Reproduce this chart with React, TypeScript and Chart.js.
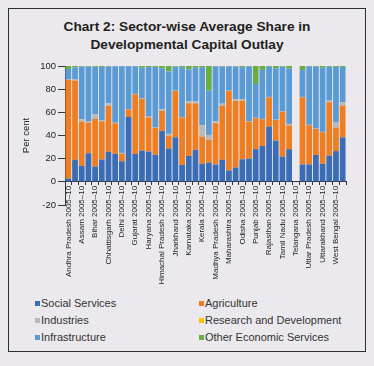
import React, { useEffect, useRef } from "react";
import { Chart, registerables } from "chart.js";

Chart.register(...registerables);

const states = [
  "Andhra Pradesh", "Assam", "Bihar", "Chhattisgarh", "Delhi", "Gujarat", "Haryana",
  "Himachal Pradesh", "Jharkhand", "Karnataka", "Kerala", "Madhya Pradesh", "Maharashtra",
  "Odisha", "Punjab", "Rajasthan", "Tamil Nadu", "Telangana", "Uttar Pradesh", "Uttarakhand",
  "West Bengal",
];
const periods = ["2005–10", "2015–20"];

const socialServices = [2.8, 19, 13.8, 24.7, 13.2, 19.3, 25.9, 24.1, 17.8, 56, 24.1, 27, 26.1, 23.3, 44, 28.7, 38.5, 14.7, 22.4, 27.6, 15.5, 16.7, 14.9, 19, 9.8, 12.4, 19.5, 20.1, 28.2, 31, 47.7, 35.6, 21.8, 28.2, null, 15, 15, 23.3, 15.6, 22.6, 26.5, 38.4];
const agriculture = [85.2, 68.4, 38.2, 26.4, 41.1, 33, 39.6, 26.5, 6.6, 6.6, 51.5, 44.6, 29.6, 23.3, 17.2, 11.3, 39.9, 41, 45.4, 40.2, 23.5, 19.5, 35.7, 46.8, 68.6, 57.4, 50.5, 31.9, 26.7, 23, 25.3, 17.8, 38.8, 20.4, null, 58, 33.9, 22.4, 27.2, 46.1, 20.3, 27.4];
const industries = [0.3, 1.4, 2, 0.9, 4, 0.9, 2.3, 0.4, 0.6, 0.3, 0.3, 0.3, 0.6, 0.3, 1.4, 1.4, 0.3, 0.3, 1.7, 1.5, 9.9, 4.3, 1.7, 1.7, 0.3, 1.5, 1.5, 0.3, 0.3, 0.3, 0.3, 0.3, 0.3, 1.4, null, 0.3, 0.3, 0.3, 0.3, 1.4, 4.9, 2.9];
const researchDevelopment = [0, 0, 0, 0, 0, 0, 0, 0, 0, 0, 0, 0, 0, 0, 0, 0, 0, 0, 0, 0, 0, 0, 0, 0, 0, 0, 0, 0, 0, 0, 0, 0, 0, 0, null, 0, 0, 0, 0, 0, 0, 0];
const infrastructure = [9.1, 10, 45.5, 47.5, 41, 46, 31.7, 48.8, 74.8, 36.9, 23.9, 26.6, 42.7, 52.4, 35.4, 54, 20.8, 43, 27.5, 29.2, 50, 38.2, 47.4, 32, 21.1, 28.2, 27.5, 47.3, 29.3, 42.3, 26.1, 44.3, 38.6, 48, null, 23.2, 50.6, 53.3, 55.4, 29.3, 47.5, 30.5];
const otherEconomic = [2.6, 1.2, 0.5, 0.5, 0.7, 0.8, 0.5, 0.2, 0.2, 0.2, 0.2, 1.5, 1, 0.7, 2, 4.6, 0.5, 1, 3, 1.5, 1.1, 21.3, 0.3, 0.5, 0.2, 0.5, 1, 0.4, 15.5, 3.4, 0.6, 2, 0.5, 2, null, 3.5, 0.2, 0.7, 1.5, 0.6, 0.8, 0.8];

const yTicks = [-20, 0, 20, 40, 60, 80, 100];

const seriesNames = ["Social Services", "Agriculture", "Industries", "Research and Development", "Infrastructure", "Other Economic Services"];
const seriesColors = ["#3b6cb6", "#ef7d22", "#b8b8b8", "#ffc000", "#5b9bd5", "#6aad45"];

const FONT = "'Liberation Sans', Arial, Helvetica, sans-serif";

export default function App() {
  const ref = useRef<HTMLCanvasElement | null>(null);

  useEffect(() => {
    document.body.style.background = "#ebe9ee";
    const labels: string[] = [];
    states.forEach((s) => periods.forEach((p) => labels.push(`${s} ${p}`)));
    const values = [socialServices, agriculture, industries, researchDevelopment, infrastructure, otherEconomic];
    const chart = new Chart(ref.current as HTMLCanvasElement, {
      type: "bar",
      data: {
        labels,
        datasets: values.map((v, i) => ({
          label: seriesNames[i],
          data: v,
          backgroundColor: seriesColors[i],
          borderWidth: 0,
          barPercentage: 0.86,
          categoryPercentage: 1,
        })),
      },
      options: {
        animation: false,
        responsive: false,
        maintainAspectRatio: false,
        layout: { padding: { left: 8, right: 19, top: 10, bottom: 91 } },
        plugins: { legend: { display: false }, tooltip: { enabled: false }, title: { display: false } },
        scales: {
          x: {
            stacked: true,
            position: { y: 0 } as any,
            grid: { offset: true, drawOnChartArea: false, tickLength: 3, color: "#333" },
            border: { color: "#333" },
            ticks: {
              autoSkip: false,
              maxRotation: 90,
              minRotation: 90,
              padding: 1,
              color: "#222",
              font: { family: FONT, size: 8 },
              callback: (_v: any, i: number) => (i % 2 === 0 ? labels[i] : ""),
            },
          },
          y: {
            stacked: true,
            min: yTicks[0],
            max: yTicks[yTicks.length - 1],
            afterFit: (s: any) => { s.width = 48; },
            afterBuildTicks: (s: any) => { s.ticks = yTicks.map((v) => ({ value: v })); },
            grid: { drawOnChartArea: false, tickLength: 7, color: "#333" },
            border: { color: "#333" },
            ticks: { color: "#222", padding: 2, font: { family: FONT, size: 9.5 } },
            title: { display: true, text: "Per cent", color: "#222", padding: { top: 4, bottom: 4 }, font: { family: FONT, size: 9.5 } },
          },
        },
      },
    });
    return () => chart.destroy();
  }, []);

  const legendPos = [
    { left: 26, top: 294 }, { left: 190, top: 294 },
    { left: 26, top: 311 }, { left: 190, top: 311 },
    { left: 26, top: 328 }, { left: 190, top: 328 },
  ];

  return (
    <div style={{ position: "relative", width: 358, height: 344, border: "1px solid #2e2e2e", boxSizing: "border-box", fontFamily: FONT }}>
      <div style={{ position: "absolute", top: 9, left: 0, width: 356, textAlign: "center", fontWeight: "bold", fontSize: 13.7, lineHeight: "18px", color: "#231f20" }}>
        <div>Chart 2: Sector-wise Average Share in</div>
        <div>Developmental Capital Outlay</div>
      </div>
      <canvas ref={ref} width={356} height={240} style={{ position: "absolute", left: 0, top: 47, width: 356, height: 240 }} />
      {seriesNames.map((n, i) => (
        <div key={n} style={{ position: "absolute", left: legendPos[i].left, top: legendPos[i].top - 7, height: 14, lineHeight: "14px", fontSize: 11, color: "#333", whiteSpace: "nowrap", display: "flex", alignItems: "center" }}>
          <span style={{ display: "inline-block", width: 5, height: 5, background: seriesColors[i], marginRight: 1 }} />
          <span>{n}</span>
        </div>
      ))}
    </div>
  );
}
